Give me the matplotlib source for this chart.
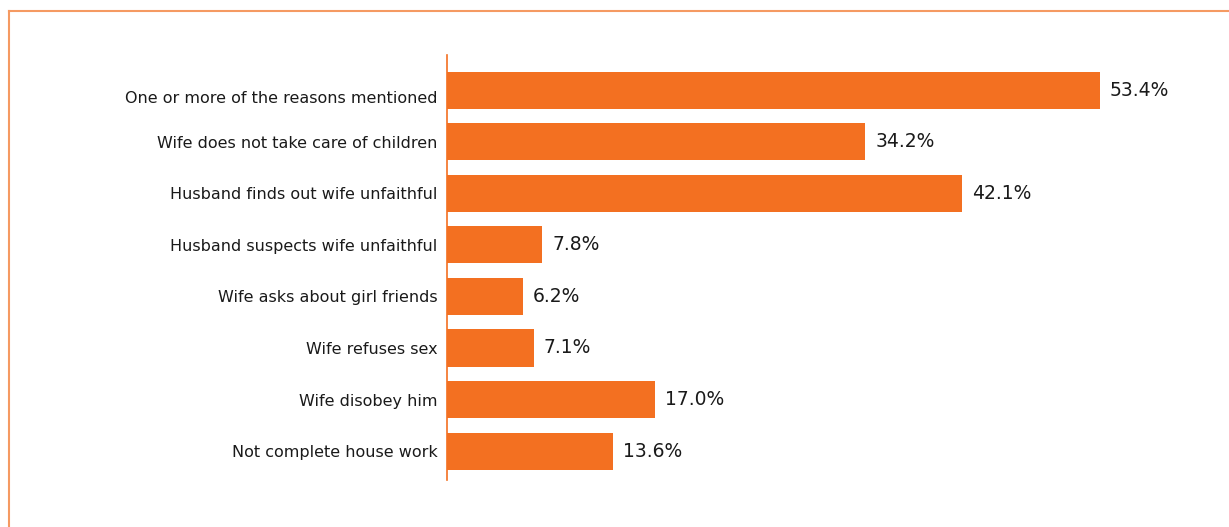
import matplotlib.pyplot as plt
from matplotlib.lines import Line2D
from matplotlib.transforms import ScaledTranslation

# reasons a husband is justified in beating his wife (% agreeing)
reasons = [
    "One or more of the reasons mentioned",
    "Wife does not take care of children",
    "Husband finds out wife unfaithful",
    "Husband suspects wife unfaithful",
    "Wife asks about girl friends",
    "Wife refuses sex",
    "Wife disobey him",
    "Not complete house work",
]
percent = [53.4, 34.2, 42.1, 7.8, 6.2, 7.1, 17.0, 13.6]

bar_color = "#F37021"
frame_color = "#F59A62"
plt.rcParams["font.family"] = ["DejaVu Sans Condensed", "DejaVu Sans"]

fig = plt.figure(figsize=(12.29, 5.27), dpi=100)
ax = fig.add_axes([447 / 1229, 47 / 527, 734 / 1229, 425 / 527])

pos = list(range(len(reasons)))
ax.barh(pos, percent, height=0.72, color=bar_color)
for y, v in zip(pos, percent):
    ax.annotate(f"{v:.1f}%", (v, y), xytext=(7, 0), textcoords="offset points",
                va="center", ha="left", fontsize=13.5, color="#1a1a1a")

ax.set_xlim(0, 60)
ax.set_ylim(7.56, -0.68)
ax.set_yticks(pos)
ax.set_yticklabels(reasons, fontsize=11.5, color="#1a1a1a")
ax.tick_params(axis="y", length=0, pad=7)
# first label sits a little low in the original
first = ax.get_yticklabels()[0]
first.set_transform(first.get_transform() + ScaledTranslation(0, -5 / 72, fig.dpi_scale_trans))
ax.set_xticks([])
for s in ["top", "right", "bottom"]:
    ax.spines[s].set_visible(False)
ax.spines["left"].set_color(bar_color)
ax.spines["left"].set_linewidth(1.2)

# thin frame round the chart (top and left only visible)
fig.add_artist(Line2D([9 / 1229, 9 / 1229], [0, 1 - 11 / 527], color=frame_color, lw=1.5,
                      transform=fig.transFigure))
fig.add_artist(Line2D([9 / 1229, 1], [1 - 11 / 527, 1 - 11 / 527], color=frame_color, lw=1.5,
                      transform=fig.transFigure))

fig.savefig("out.png", dpi=100)
